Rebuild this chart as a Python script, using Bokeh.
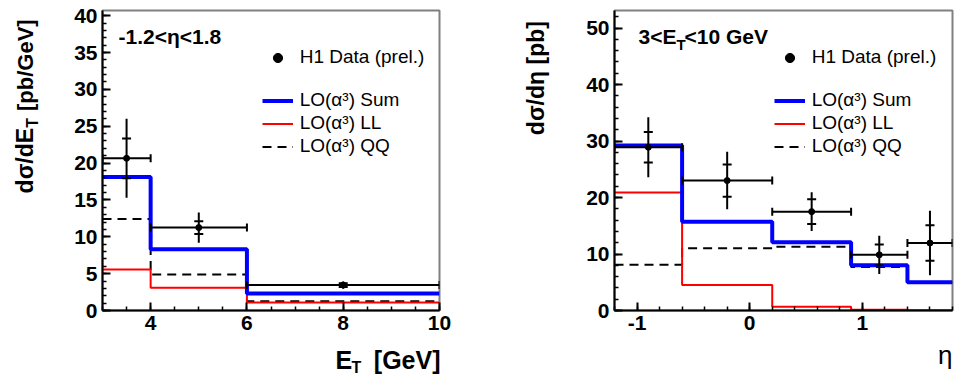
import math
from bokeh.plotting import figure
from bokeh.layouts import row, column
from bokeh.models import (Range1d, SingleIntervalTicker, Label, Legend, LegendItem,
                          PrintfTickFormatter)
from bokeh.embed import file_html
from bokeh.resources import INLINE

# ---------------- data ----------------
# left panel: d sigma / d E_T, -1.2 < eta < 1.8
et_edges = [3, 4, 6, 10]
et_sum = [18.1, 8.3, 2.3]
et_ll = [5.55, 3.1, 1.1]
et_qq = [12.4, 4.9, 1.25]
et_data = [20.65, 11.25, 3.45]
et_stat = [2.7, 0.87, 0.25]
et_tot = [5.35, 2.05, 0.5]

# right panel: d sigma / d eta, 3 < E_T < 10 GeV
eta_edges = [-1.2, -0.6, 0.2, 0.9, 1.4, 1.8]
eta_sum = [29.2, 15.7, 12.1, 8.0, 5.0]
eta_ll = [20.9, 4.5, 0.65, 0.15, 0.05]
eta_qq = [8.1, 11.0, 11.3, 7.7, 4.95]
eta_data = [28.9, 23.0, 17.5, 9.85, 11.95]
eta_stat = [2.7, 2.85, 2.2, 1.85, 3.15]
eta_tot = [5.3, 5.1, 3.45, 3.4, 5.7]

legend_labels = ["H1 Data (prel.)", "LO(α³) Sum", "LO(α³) LL", "LO(α³) QQ"]

FONT = "Liberation Sans"
FR_TOP, FR_BOT = 10, 310
MAIN_H = 340
TOTAL_H = 376
BASE_SHIFT = 0.34  # compensation of the label baseline placement, in em


def steps(edges, vals):
    xs, ys = [], []
    for i, v in enumerate(vals):
        xs += [edges[i], edges[i + 1]]
        ys += [v, v]
    return xs, ys


def make_fig(xr, yr, width, bl, br, xint, xminor, yint, yminor):
    p = figure(width=width, height=MAIN_H, x_range=Range1d(*xr), y_range=Range1d(*yr),
               output_backend="svg", toolbar_location=None,
               min_border_left=bl, min_border_right=br,
               min_border_top=FR_TOP, min_border_bottom=MAIN_H - FR_BOT)
    p.xgrid.visible = False
    p.ygrid.visible = False
    p.outline_line_color = "#808080"
    p.outline_line_width = 2
    p.background_fill_color = "white"
    p.border_fill_color = "white"
    p.xaxis.ticker = SingleIntervalTicker(interval=xint, num_minor_ticks=xminor)
    p.yaxis.ticker = SingleIntervalTicker(interval=yint, num_minor_ticks=yminor)
    p.xaxis.formatter = PrintfTickFormatter(format="%d")
    p.yaxis.formatter = PrintfTickFormatter(format="%d")
    for ax in (p.xaxis, p.yaxis):
        ax.axis_line_width = 2
        ax.axis_line_color = "black"
        ax.major_tick_in = 8
        ax.major_tick_out = 0
        ax.minor_tick_in = 4
        ax.minor_tick_out = 0
        ax.major_tick_line_width = 2
        ax.minor_tick_line_width = 1.5
        ax.major_tick_line_color = "black"
        ax.minor_tick_line_color = "black"
        ax.major_label_text_font = FONT
        ax.major_label_text_font_style = "bold"
        ax.major_label_text_font_size = "21px"
        ax.major_label_text_color = "black"
    p.xaxis.major_label_standoff = 5
    p.yaxis.major_label_standoff = 5
    return p


def strip(x0, x1, y0, y1):
    """A blank figure whose data units are the page's pixels (for axis titles)."""
    s = figure(width=x1 - x0, height=y1 - y0, x_range=Range1d(x0, x1), y_range=Range1d(y1, y0),
               output_backend="svg", toolbar_location=None,
               x_axis_location=None, y_axis_location=None,
               min_border_left=0, min_border_right=0, min_border_top=0, min_border_bottom=0)
    s.xgrid.visible = False
    s.ygrid.visible = False
    s.outline_line_color = None
    s.background_fill_color = "white"
    s.border_fill_color = "white"
    return s


def draw_panel(p, edges, s_sum, s_ll, s_qq, dat, stat, tot):
    xs, ys = steps(edges, s_qq)
    r_qq = p.line(xs, ys, line_color="black", line_width=2, line_dash="9 6")
    xs, ys = steps(edges, s_ll)
    r_ll = p.line(xs, ys, line_color="#ff0000", line_width=2)
    xs, ys = steps(edges, s_sum)
    r_sum = p.line(xs, ys, line_color="#0000ff", line_width=4)

    lo = edges[:-1]
    hi = edges[1:]
    xc = [(a + b) / 2 for a, b in zip(lo, hi)]
    p.segment(x0=xc, y0=[y - e for y, e in zip(dat, tot)], x1=xc,
              y1=[y + e for y, e in zip(dat, tot)], line_color="black", line_width=2)
    p.segment(x0=lo, y0=dat, x1=hi, y1=dat, line_color="black", line_width=2)
    p.scatter(x=lo + hi, y=dat + dat, marker="dash", angle=math.pi / 2, size=8,
              line_color="black", line_width=2)
    p.scatter(x=xc + xc, y=[y + e for y, e in zip(dat, stat)] + [y - e for y, e in zip(dat, stat)],
              marker="dash", size=9, line_color="black", line_width=2)
    r_dat = p.scatter(x=xc, y=dat, marker="circle", size=6, fill_color="black", line_color="black")

    # legends
    gx = 159.7
    leg1 = Legend(items=[LegendItem(label=legend_labels[0], renderers=[r_dat])],
                  location=(gx, FR_BOT - 68.8))
    leg2 = Legend(items=[LegendItem(label=legend_labels[1], renderers=[r_sum]),
                         LegendItem(label=legend_labels[2], renderers=[r_ll]),
                         LegendItem(label=legend_labels[3], renderers=[r_qq])],
                  location=(gx, FR_BOT - 157.5))
    for lg in (leg1, leg2):
        lg.label_text_font = FONT
        lg.label_text_font_size = "19px"
        lg.label_text_color = "black"
        lg.glyph_width = 31
        lg.glyph_height = 23
        lg.label_height = 23
        lg.label_standoff = 7
        lg.padding = 0
        lg.margin = 0
        lg.spacing = 0
        lg.border_line_color = None
        lg.background_fill_alpha = 0
        p.add_layout(lg)


# page layout (x pixels): [0,45) y-title | [45,500) left panel | [500,555) y-title | [555,955) right panel
P1_X, YT2_X, P2_X = 45, 500, 555

# ---------------- left panel ----------------
xr1, yr1 = (3, 10), (0, 40.7)
p1 = make_fig(xr1, yr1, YT2_X - P1_X, 102 - P1_X, YT2_X - 439, 2, 4, 5, 5)
draw_panel(p1, et_edges, et_sum, et_ll, et_qq, et_data, et_stat, et_tot)

# ---------------- right panel ----------------
xr2, yr2 = (-1.2, 1.8), (0, 53.1)
p2 = make_fig(xr2, yr2, 955 - P2_X, 614 - P2_X, 955 - 952, 1, 5, 10, 5)
draw_panel(p2, eta_edges, eta_sum, eta_ll, eta_qq, eta_data, eta_stat, eta_tot)


def lab(p, px, py, text, size, bold=True, align="left", rotated=False, units="data"):
    shift = BASE_SHIFT * size
    if rotated:
        px -= shift
    else:
        py -= shift
    p.add_layout(Label(x=px, y=py, x_units=units, y_units=units, text=text,
                       text_font=FONT, text_font_size=f"{size}px",
                       text_font_style="bold" if bold else "normal", text_color="black",
                       text_align=align, text_baseline="alphabetic",
                       angle=math.pi / 2 if rotated else 0.0, angle_units="rad"))


# panel annotations (canvas pixels of each figure)
lab(p1, 118 - P1_X, 43, "-1.2<η<1.8", 21, units="canvas")
lab(p2, 638 - P2_X, 43, "3<E", 21, units="canvas")
lab(p2, 676 - P2_X, 49, "T", 15, units="canvas")
lab(p2, 684 - P2_X, 43, "<10 GeV", 21, units="canvas")

# y-axis titles (reading upwards)
yt1 = strip(0, P1_X, 0, MAIN_H)
lab(yt1, 32, 133, "dσ/dE", 23, align="right", rotated=True)
lab(yt1, 37, 133, "T", 16, rotated=True)
lab(yt1, 32, 10, "[pb/GeV]", 22, align="right", rotated=True)

yt2 = strip(YT2_X, P2_X, 0, MAIN_H)
lab(yt2, 543, 12, "dσ/dη [pb]", 23, align="right", rotated=True)

# x-axis titles
xt = strip(0, 955, MAIN_H, TOTAL_H)
lab(xt, 335, 368, "E", 25)
lab(xt, 351, 372, "T", 16)
lab(xt, 440, 368, "[GeV]", 25, align="right")
lab(xt, 952, 363, "η", 26, bold=False, align="right")

layout = column(row(yt1, p1, yt2, p2), xt)
open("out.html", "w").write(file_html(layout, INLINE))
